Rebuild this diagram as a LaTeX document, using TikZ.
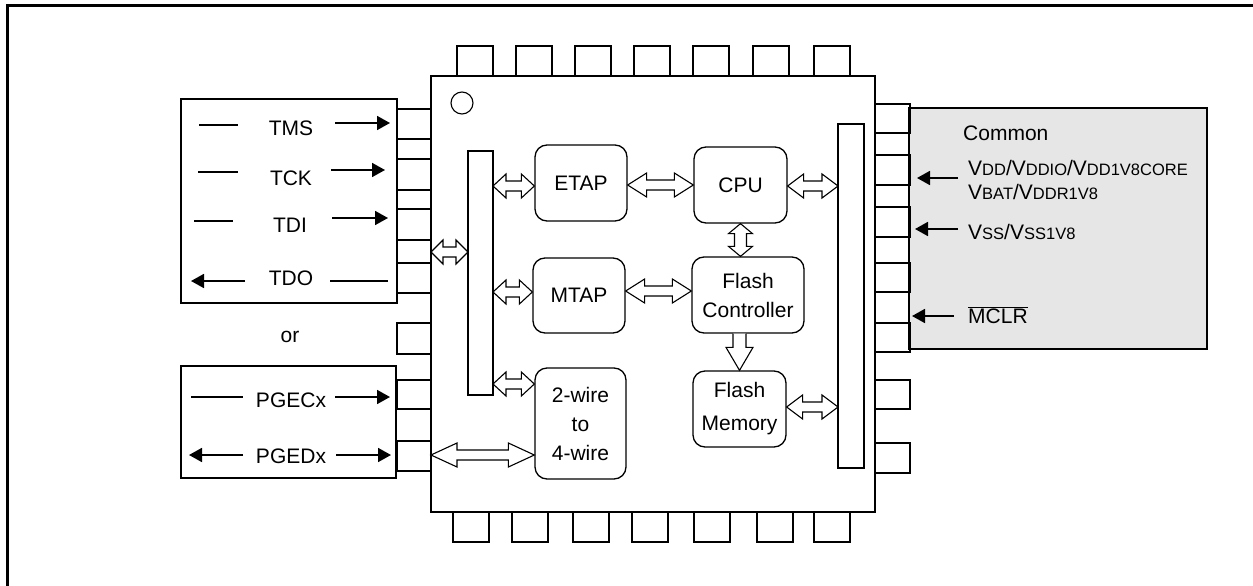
\documentclass[tikz,border=0pt]{standalone}
\usepackage{fontspec}
\setmainfont{Liberation Sans}
\usetikzlibrary{calc,arrows.meta}
\definecolor{panelgray}{HTML}{E6E6E6}
\newcommand\smc[1]{{\fontsize{16.5}{18}\selectfont #1}}
% horizontal hollow double arrow (optional head length)
\newcommand\hdbl[3][16pt]{\draw[hollow] let \p1=(#2), \p2=(#3) in
  (\x1,\y1) -- (\x1+#1,\y1+12pt) -- (\x1+#1,\y1+5pt) -- (\x2-#1,\y1+5pt) -- (\x2-#1,\y1+12pt)
  -- (\x2,\y1) -- (\x2-#1,\y1-12pt) -- (\x2-#1,\y1-5pt) -- (\x1+#1,\y1-5pt) -- (\x1+#1,\y1-12pt) -- cycle;}
% vertical hollow double arrow (first point on top)
\newcommand\vdbl[3][10pt]{\draw[hollow] let \p1=(#2), \p2=(#3) in
  (\x1,\y1) -- (\x1+12pt,\y1-#1) -- (\x1+6pt,\y1-#1) -- (\x1+6pt,\y2+#1) -- (\x1+12pt,\y2+#1)
  -- (\x1,\y2) -- (\x1-12pt,\y2+#1) -- (\x1-6pt,\y2+#1) -- (\x1-6pt,\y1-#1) -- (\x1-12pt,\y1-#1) -- cycle;}
% vertical hollow single arrow pointing down
\newcommand\vsgl[2]{\draw[hollow] let \p1=(#1), \p2=(#2) in
  (\x1+6.5pt,\y1) -- (\x1+6.5pt,\y2+23pt) -- (\x1+13.5pt,\y2+23pt) -- (\x1,\y2)
  -- (\x1-13.5pt,\y2+23pt) -- (\x1-6.5pt,\y2+23pt) -- (\x1-6.5pt,\y1);}
\tikzset{
  frame/.style={line width=3pt},
  box/.style={draw, line width=2.5pt, inner sep=0pt, outer sep=0pt},
  pinst/.style={draw, line width=2.5pt},
  blk/.style={draw, rounded corners=12pt, line width=1.3pt, align=center, inner sep=0pt,
    font=\fontsize{21}{29}\selectfont},
  hollow/.style={draw, fill=white, line width=1.1pt, line join=miter},
  lbl/.style={inner sep=0pt, font=\fontsize{21}{25}\selectfont},
  sig/.style={line width=1.8pt, -{Triangle[length=13pt,width=14pt]}},
  dsh/.style={line width=1.8pt},
}
\begin{document}
\begin{tikzpicture}[x=1pt,y=-1pt]
\useasboundingbox (0,0) rectangle (1253,586);
\draw[frame] (7,586) -- (7,6) -- (1253,6);

% grey "Common" panel
\node[box, fill=panelgray, anchor=north west, minimum width=298, minimum height=241] (grp) at (909,108) {};

% chip body
\node[box, anchor=north west, minimum width=444, minimum height=436] (chip) at (431,76) {};
\draw[line width=1.1pt] (462,103) circle (11);

% pins
\foreach \x in {457,516,575,634,693,753,814} \draw[pinst] (\x,46) rectangle ++(36,30);
\foreach \x in {453,512,573,632,694,757,814} \draw[pinst] (\x,512) rectangle ++(36,30);
\foreach \a/\b in {109/139,159/190,209/240,263/293,323/354,380/409,441/471}
  \draw[pinst] (397,\a) rectangle (431,\b);
\foreach \a/\b in {104/133,155/185,207/237,263/292,323/352,380/409,443/473}
  \draw[pinst] (875,\a) rectangle (910,\b);

% external boxes
\node[box, anchor=north west, minimum width=216, minimum height=204] (jtag) at (181,99) {};
\node[box, anchor=north west, minimum width=215, minimum height=112] (icsp) at (181,366) {};

% buses
\node[box, anchor=north west, minimum width=25, minimum height=244] (lbus) at (468,151) {};
\node[box, anchor=north west, minimum width=26, minimum height=344] (rbus) at (838,124) {};

% blocks
\node[blk, minimum width=92, minimum height=76] (etap) at (581,183) {ETAP};
\node[blk, minimum width=93, minimum height=76] (cpu) at (740.5,185) {CPU};
\node[blk, minimum width=92, minimum height=75] (mtap) at (579,295.5) {MTAP};
\node[blk, minimum width=112, minimum height=76] (fc) at (748,295) {Flash\\Controller};
\node[blk, minimum width=93, minimum height=76] (fm) at (739.5,409) {Flash\\[4pt]Memory};
\node[blk, minimum width=91, minimum height=111] (tw) at (580.5,423.5) {2-wire\\to\\4-wire};

% hollow arrows
\hdbl[12pt]{chip.west |- 0,252}{lbus.west |- 0,252}
\hdbl[13pt]{lbus.east |- 0,186}{etap.west |- 0,186}
\hdbl[19pt]{etap.east |- 0,185}{cpu.west |- 0,185}
\hdbl[16pt]{cpu.east |- 0,186}{rbus.west |- 0,186}
\hdbl[13pt]{lbus.east |- 0,292}{mtap.west |- 0,292}
\hdbl[19pt]{mtap.east |- 0,291}{fc.west |- 0,291}
\hdbl[13pt]{lbus.east |- 0,384}{tw.west |- 0,384}
\hdbl[26pt]{chip.west |- 0,455}{tw.west |- 0,455}
\hdbl[16pt]{fm.east |- 0,407}{rbus.west |- 0,407}
\vdbl{cpu.south}{cpu.south |- fc.north}
\vsgl{fm.north |- fc.south}{fm.north}

% JTAG labels
\node[lbl, anchor=base] (tms) at (291,135) {TMS};
\node[lbl, anchor=base] (tck) at (291,185) {TCK};
\node[lbl, anchor=base] (tdi) at (290,232) {TDI};
\node[lbl, anchor=base] (tdo) at (291,285) {TDO};
\draw[dsh] (199,125) -- (238,125);
\draw[sig] (335,123) -- (390,123);
\draw[dsh] (198,172) -- (238,172);
\draw[sig] (331,170) -- (385,170);
\draw[dsh] (194,221) -- (233,221);
\draw[sig] (332,218) -- (388,218);
\draw[sig] (245,281) -- (191,281);
\draw[dsh] (330,281) -- (388,281);

\node[lbl, anchor=base] (or) at (290,342) {or};

% ICSP labels
\node[lbl, anchor=base] (pgec) at (291,407) {PGECx};
\node[lbl, anchor=base] (pged) at (291,463) {PGEDx};
\draw[dsh] (191,397) -- (243,397);
\draw[sig] (335,397) -- (390,397);
\draw[sig] (243,455) -- (189,455);
\draw[sig] (336,455) -- (391,455);

% Common panel labels
\node[lbl, anchor=base west] (common) at (963,140) {Common};
\node[lbl, anchor=base west] (vdd) at (968,175) {V\smc{DD}/V\smc{DDIO}/V\smc{DD1V8CORE}};
\node[lbl, anchor=base west] (vbat) at (968,199) {V\smc{BAT}/V\smc{DDR1V8}};
\node[lbl, anchor=base west] (vss) at (968,239) {V\smc{SS}/V\smc{SS1V8}};
\node[lbl, anchor=base west] (mclr) at (968,323) {$\overline{\mbox{MCLR}}$};
\draw[sig] (958,178) -- (917,178);
\draw[sig] (958,229) -- (915,229);
\draw[sig] (954,316) -- (912,316);
\end{tikzpicture}
\end{document}
